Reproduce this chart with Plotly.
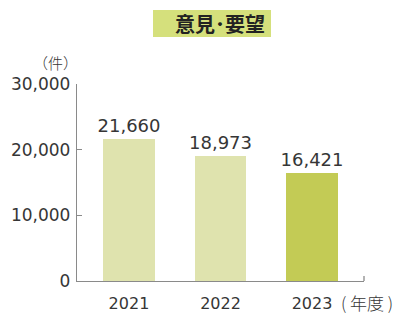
import plotly.graph_objects as go

years = ["2021", "2022", "2023"]
values = [21660, 18973, 16421]
bar_colors = ["#dfe3ae", "#dfe3ae", "#c3cb55"]
value_labels = ["21,660", "18,973", "16,421"]
y_ticks = [0, 10000, 20000, 30000]
y_tick_labels = ["0", "10,000", "20,000", "30,000"]

NUMFONT = "DejaVu Sans"
JPFONT = "Noto Sans CJK JP"
TXT = "#363636"
AX = "#8a8a8a"

L, R, T, B = 77, 36, 84, 41
PW, PH = 400 - L - R, 322 - T - B

def px(x):
    return (x - L) / PW

def py(y):
    return (322 - B - y) / PH

fig = go.Figure()
fig.add_trace(go.Bar(
    x=[0, 1, 2], y=values, width=0.568,
    marker=dict(color=bar_colors, line=dict(width=0)),
    text=value_labels, textposition="outside", constraintext="none",
    textfont=dict(family=NUMFONT, size=18, color=TXT),
    cliponaxis=False, hoverinfo="skip",
))

fig.update_layout(
    width=400, height=322,
    margin=dict(l=L, r=R, t=T, b=B, autoexpand=False),
    paper_bgcolor="white", plot_bgcolor="white",
    showlegend=False, bargap=0,
    font=dict(family=NUMFONT, color=TXT),
    xaxis=dict(
        range=[-0.568, 2.568], tickvals=[0, 1, 2], ticktext=years,
        showline=True, linecolor=AX, linewidth=1.3, ticks="",
        showgrid=False, zeroline=False, ticklabelstandoff=8, automargin=False,
        tickfont=dict(family=NUMFONT, size=16, color=TXT),
        fixedrange=True,
    ),
    yaxis=dict(
        range=[0, 30000], tickvals=y_ticks, ticktext=y_tick_labels,
        showline=True, linecolor=AX, linewidth=1.3,
        ticks="inside", ticklen=5, tickcolor=AX, tickwidth=1.3,
        showgrid=False, zeroline=False, ticklabelstandoff=2, automargin=False,
        tickfont=dict(family=NUMFONT, size=17, color=TXT),
        fixedrange=True,
    ),
)

# right end tick of x axis
fig.add_shape(type="line", xref="paper", yref="paper", x0=1, x1=1, y0=0, y1=5 / PH,
              line=dict(color=AX, width=1.3))

# title box
fig.add_shape(type="rect", xref="paper", yref="paper",
              x0=px(153), x1=px(271), y0=py(37), y1=py(10),
              fillcolor="#d5e07c", line=dict(width=0), layer="below")
fig.add_annotation(
    text="<b>意見･要望</b>", xref="paper", yref="paper",
    x=px(220), y=py(23.5),
    xanchor="center", yanchor="middle", showarrow=False,
    font=dict(family=JPFONT, size=20, color="#222222"),
)
# unit label
fig.add_annotation(
    text="（件）", xref="paper", yref="paper",
    x=px(55), y=py(62),
    xanchor="center", yanchor="middle", showarrow=False,
    font=dict(family=JPFONT, size=15, color=TXT, weight=300),
    borderpad=0,
)
# year unit
fig.add_annotation(
    text="( 年度 )", xref="paper", yref="paper",
    x=px(367), y=py(302),
    xanchor="center", yanchor="middle", showarrow=False,
    font=dict(family=JPFONT, size=17, color=TXT, weight=300),
    borderpad=0,
)

fig.write_html("out.html")
